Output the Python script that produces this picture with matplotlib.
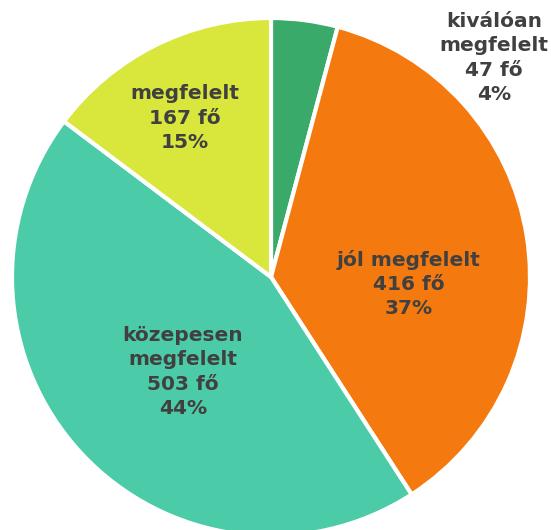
import matplotlib.pyplot as plt

# data
categories = ["kiválóan\nmegfelelt", "jól megfelelt", "közepesen\nmegfelelt", "megfelelt"]
counts = [47, 416, 503, 167]
percents = [4, 37, 44, 15]
colors = ["#3AAA6A", "#F4790F", "#4BCBA8", "#D9E63C"]

fig = plt.figure(figsize=(5.51, 5.30), dpi=100)
ax = fig.add_axes([0, 0, 1, 1])

wedges, _ = ax.pie(counts, colors=colors, startangle=90, counterclock=False,
                   center=(271, -277), radius=259,
                   wedgeprops=dict(edgecolor="white", linewidth=3))

# pie() resets the limits, so set them afterwards
ax.set_xlim(0, 551)
ax.set_ylim(-530, 0)
ax.set_aspect("equal")
ax.axis("off")

# label positions (pixel coords, y downwards)
label_pos = [(494, 58), (409, 284), (183, 372), (185, 118)]
for cat, n, p, (x, y) in zip(categories, counts, percents, label_pos):
    ax.text(x, -y, f"{cat}\n{n} fő\n{p}%", ha="center", va="center",
            fontsize=14.5, fontweight="bold", color="#404040", linespacing=1.35)

fig.savefig("out.png", dpi=100)
